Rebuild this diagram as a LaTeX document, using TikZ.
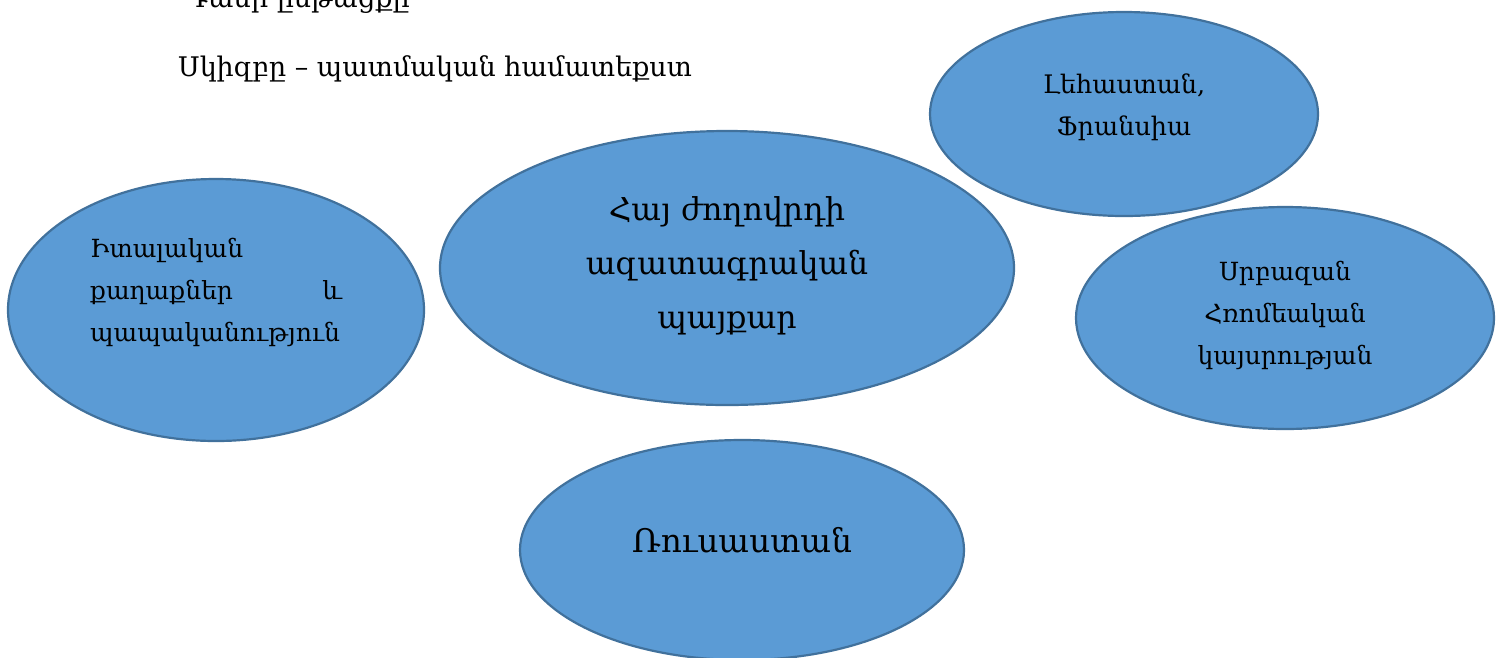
\documentclass[tikz,border=0pt]{standalone}
\usepackage{fontspec}
\setmainfont{DejaVu Serif}
\usetikzlibrary{shapes.geometric}
\definecolor{efill}{HTML}{5B9BD5}
\definecolor{edraw}{HTML}{41719C}
\tikzset{
  oval/.style={ellipse, fill=efill, draw=edraw, line width=2.2pt, inner sep=0pt},
  lbl/.style={align=center, text=black, inner sep=0pt},
}
\begin{document}
\begin{tikzpicture}[x=1pt,y=-1pt]
\useasboundingbox (0,0) rectangle (1503,657);
\begin{scope}
\clip (0,0) rectangle (1503,657);
\node[oval, minimum width=416pt, minimum height=262pt] (ital) at (216,310) {};
\node[oval, minimum width=574pt, minimum height=274pt] (main) at (727,268) {};
\node[oval, minimum width=388pt, minimum height=204pt] (pol) at (1124,114) {};
\node[oval, minimum width=418pt, minimum height=222pt] (rome) at (1285,318) {};
\node[oval, minimum width=444pt, minimum height=220pt] (rus) at (742,550) {};
\node[anchor=base west, inner sep=0pt, font=\fontsize{27}{30}\selectfont] (t0) at (185,7) {Դասի ընթացքը};
\end{scope}
\node[anchor=base west, inner sep=0pt, font=\fontsize{27}{30}\selectfont] (t1) at (178,76) {Սկիզբը – պատմական համատեքստ};
\node[lbl, align=left, anchor=west, font=\fontsize{25}{42}\selectfont] (italt) at (90,292) {Իտալական\\\hbox to 252pt{քաղաքներ\hfill և}\\պապականություն};
\node[lbl, font=\fontsize{31.5}{54}\selectfont] (maint) at (727,266) {Հայ ժողովրդի\\ազատագրական\\պայքար};
\node[lbl, font=\fontsize{25.5}{42}\selectfont] (polt) at (1124,107) {Լեհաստան,\\Ֆրանսիա};
\node[lbl, font=\fontsize{25}{42}\selectfont] (romet) at (1285,315) {Սրբազան\\Հռոմեական\\կայսրության};
\node[lbl, font=\fontsize{32.5}{54}\selectfont] (rust) at (742,540) {Ռուսաստան};
\end{tikzpicture}
\end{document}
